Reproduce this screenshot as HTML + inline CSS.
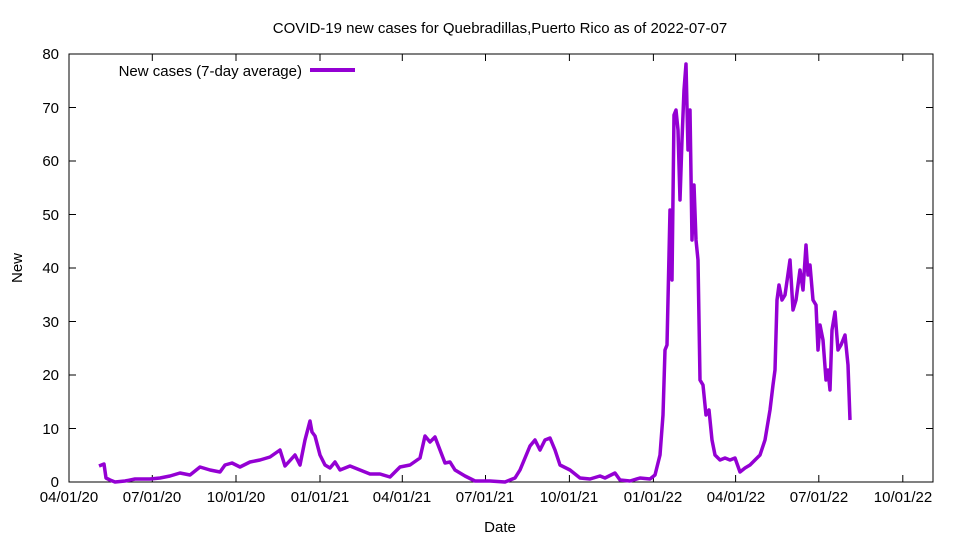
<!DOCTYPE html>
<html><head><meta charset="utf-8"><style>body{margin:0;background:#fff}svg{display:block}text{font-family:"Liberation Sans",sans-serif;font-size:15px;fill:#000}</style></head>
<body>
<svg width="960" height="540" viewBox="0 0 960 540">
<text x="500" y="33" text-anchor="middle">COVID-19 new cases for Quebradillas,Puerto Rico as of 2022-07-07</text>
<rect x="69" y="54" width="864" height="428" fill="none" stroke="#000" stroke-width="1"/>
<g stroke="#000" stroke-width="1">
<path d="M69 482h7M933 482h-7M69 428.5h7M933 428.5h-7M69 375h7M933 375h-7M69 321.5h7M933 321.5h-7M69 268h7M933 268h-7M69 214.5h7M933 214.5h-7M69 161h7M933 161h-7M69 107.5h7M933 107.5h-7"/>
<path d="M69 482v-7M69 54v7M152.3 482v-7M152.3 54v7M236 482v-7M236 54v7M320 482v-7M320 54v7M402.3 482v-7M402.3 54v7M485.5 482v-7M485.5 54v7M569.4 482v-7M569.4 54v7M653.4 482v-7M653.4 54v7M735.6 482v-7M735.6 54v7M818.8 482v-7M818.8 54v7M902.8 482v-7M902.8 54v7"/>
</g>
<g text-anchor="end">
<text x="59" y="487">0</text><text x="59" y="434">10</text><text x="59" y="380">20</text><text x="59" y="327">30</text><text x="59" y="273">40</text><text x="59" y="220">50</text><text x="59" y="166">60</text><text x="59" y="113">70</text><text x="59" y="59">80</text>
</g>
<g text-anchor="middle">
<text x="69" y="502">04/01/20</text><text x="152" y="502">07/01/20</text><text x="236" y="502">10/01/20</text><text x="320" y="502">01/01/21</text><text x="402" y="502">04/01/21</text><text x="485" y="502">07/01/21</text><text x="569" y="502">10/01/21</text><text x="653" y="502">01/01/22</text><text x="736" y="502">04/01/22</text><text x="819" y="502">07/01/22</text><text x="903" y="502">10/01/22</text>
<text x="500" y="532">Date</text>
</g>
<text x="22" y="268" text-anchor="middle" transform="rotate(-90 22 268)">New</text>
<text x="302" y="76" text-anchor="end">New cases (7-day average)</text>
<line x1="310" y1="70" x2="355" y2="70" stroke="#9400d3" stroke-width="4"/>
<polyline fill="none" stroke="#9400d3" stroke-width="3.5" stroke-linejoin="round" points="99,466 104,464 106,478 110,480 115,482 125,481 135,479 150,479 160,478 170,476 180,473 190,475 200,467 210,470 220,472 225,465 232,463 240,467 250,462 260,460 270,457 280,450 285,466 295,455 300,465 305,440 310,421 312,432 315,436 320,455 325,465 330,468 335,462 340,470 350,466 360,470 370,474 380,474 390,477 400,467 410,465 420,458 425,436 430,442 435,437 440,450 445,463 450,462 455,470 465,476 475,481 490,481 505,482 515,478 520,470 530,446 535,440 540,450 545,440 550,438 555,450 560,465 570,470 580,478 590,479 600,476 605,478 615,473 620,480 630,481 640,478 650,479 655,475 660,455 663,415 665,350 667,345 670,210 672,280 674,115 676,110 678,130 680,200 682,140 684,90 686,64 688,150 690,110 692,240 694,185 696,240 698,260 700,380 703,385 706,415 709,410 712,440 715,455 720,460 725,458 730,460 735,458 740,472 745,468 750,465 755,460 760,455 765,440 770,410 773,385 775,370 777,300 779,285 782,300 785,295 790,260 793,310 796,300 800,270 803,290 806,245 808,275 810,265 813,300 816,305 818,350 820,325 823,340 826,380 828,370 830,390 832,330 835,312 838,350 841,345 845,335 848,365 850,420"/>
</svg>
</body></html>
